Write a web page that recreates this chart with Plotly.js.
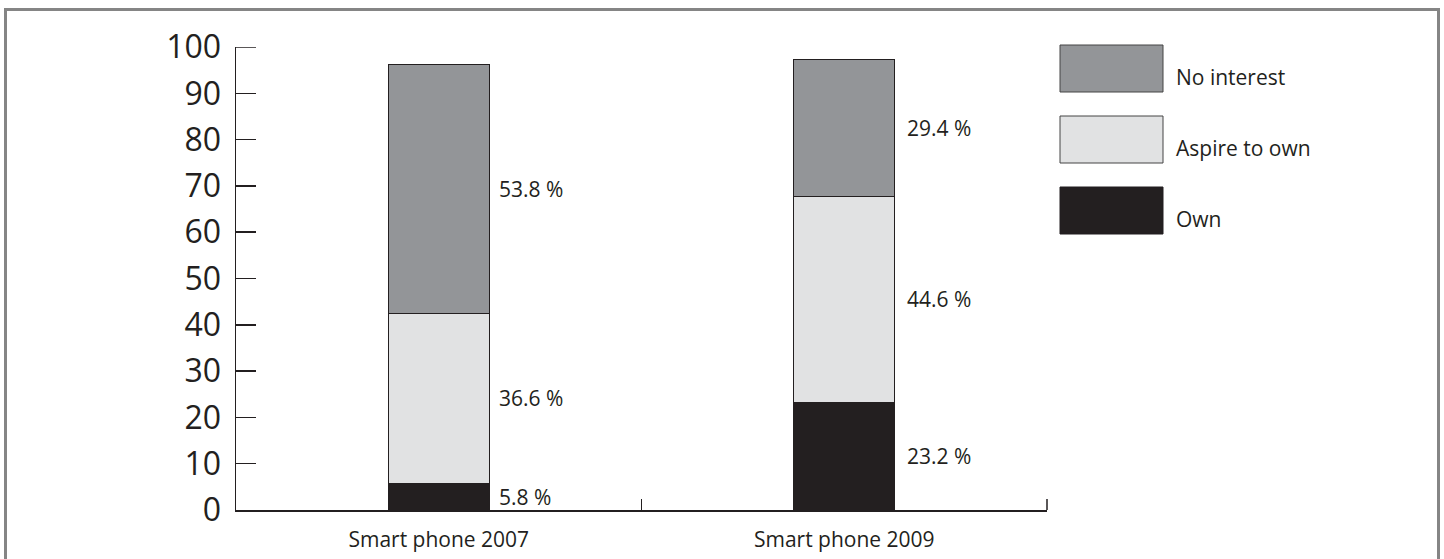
<!DOCTYPE html>
<html>
<head>
<meta charset="utf-8">
<script src="https://cdn.plot.ly/plotly-3.0.1.min.js"></script>
<style>
  html, body { margin: 0; padding: 0; background: #fff; overflow: hidden; }
  #chart { width: 1444px; height: 559px; }
  #frame { position: absolute; left: 4px; top: 8px; width: 1436px; height: 600px;
           border: 3px solid #858585; pointer-events: none; box-sizing: border-box; }
</style>
</head>
<body>
<div id="chart"></div>
<div id="frame"></div>
<script>
const categories = ["Smart phone 2007", "Smart phone 2009"];
const seriesNames = ["Own", "Aspire to own", "No interest"];
const own = [5.8, 23.2];
const aspire = [36.6, 44.6];
const noInterest = [53.8, 29.4];
const yTicks = [0, 10, 20, 30, 40, 50, 60, 70, 80, 90, 100];

const colors = ["#231f20", "#e1e2e3", "#939598"];
const seriesValues = [own, aspire, noInterest];
const FONT = "Open Sans, sans-serif";
const DARK = "#231f20";

const traces = seriesValues.map((vals, i) => ({
  type: "bar",
  name: seriesNames[i],
  x: categories,
  y: vals,
  width: 0.25,
  marker: { color: colors[i], line: { color: DARK, width: 1 } },
  showlegend: false,
  hoverinfo: "skip"
}));

const annotations = [];
categories.forEach((cat, ci) => {
  let base = 0;
  seriesValues.forEach((vals, si) => {
    const v = vals[ci];
    annotations.push({
      xref: "x", yref: "y", x: cat, y: base + v / 2,
      xshift: 58 + (ci === 1 ? 3 : 0), xanchor: "left", yanchor: "middle",
      text: v.toFixed(1) + " %", showarrow: false,
      font: { family: FONT, size: 21, color: DARK }
    });
    base += v;
  });
});

const plotL = 236, plotW = 1047 - 236, plotT = 47, plotH = 510 - 47;

// Legend drawn as shapes + text (order top to bottom: No interest, Aspire, Own)
const shapes = [];
const legendOrder = [2, 1, 0];
legendOrder.forEach((si, k) => {
  const top = 45 + k * 71;
  const x0 = (1060 - plotL) / plotW, x1 = (1163 - plotL) / plotW;
  const y0 = 1 - (top - plotT) / plotH, y1 = 1 - (top + 47 - plotT) / plotH;
  shapes.push({
    type: "rect", xref: "paper", yref: "paper", x0: x0, x1: x1, y0: y1, y1: y0,
    fillcolor: colors[si], line: { color: si === 0 ? colors[si] : "#444", width: 1 }
  });
  annotations.push({
    xref: "paper", yref: "paper", x: (1174 - plotL) / plotW,
    y: 1 - (top + 32 - plotT) / plotH, xanchor: "left", yanchor: "middle",
    text: seriesNames[si], showarrow: false,
    font: { family: FONT, size: 21, color: DARK }
  });
});

// End ticks that Plotly hides at the axis range edges
shapes.push({
  type: "line", xref: "paper", yref: "y", x0: 0, x1: 20 / plotW,
  y0: yTicks[yTicks.length - 1], y1: yTicks[yTicks.length - 1],
  line: { color: DARK, width: 1.5 }
});
shapes.push({
  type: "line", xref: "paper", yref: "paper", x0: 1, x1: 1, y0: 0, y1: 11 / plotH,
  line: { color: DARK, width: 1.5 }
});

const layout = {
  width: 1444, height: 559,
  margin: { l: 236, r: 397, t: 47, b: 49, pad: 0 },
  paper_bgcolor: "#fff", plot_bgcolor: "#fff",
  barmode: "stack",
  showlegend: false,
  xaxis: {
    type: "category", range: [-0.5, 1.5],
    showline: true, linecolor: DARK, linewidth: 2,
    ticks: "inside", ticklen: 11, tickwidth: 1.5, tickcolor: DARK,
    tickson: "boundaries", ticklabelstandoff: 10,
    showgrid: false, zeroline: false,
    tickfont: { family: FONT, size: 21, color: DARK }
  },
  yaxis: {
    range: [0, 100], tickvals: yTicks, ticktext: yTicks.map(String),
    showline: true, linecolor: DARK, linewidth: 1.5,
    ticks: "inside", ticklen: 20, tickwidth: 1.5, tickcolor: DARK,
    ticklabelstandoff: 7,
    showgrid: false, zeroline: false,
    tickfont: { family: FONT, size: 32, color: DARK }
  },
  shapes: shapes,
  annotations: annotations
};

Plotly.newPlot("chart", traces, layout, { displayModeBar: false, staticPlot: true });
</script>
</body>
</html>
